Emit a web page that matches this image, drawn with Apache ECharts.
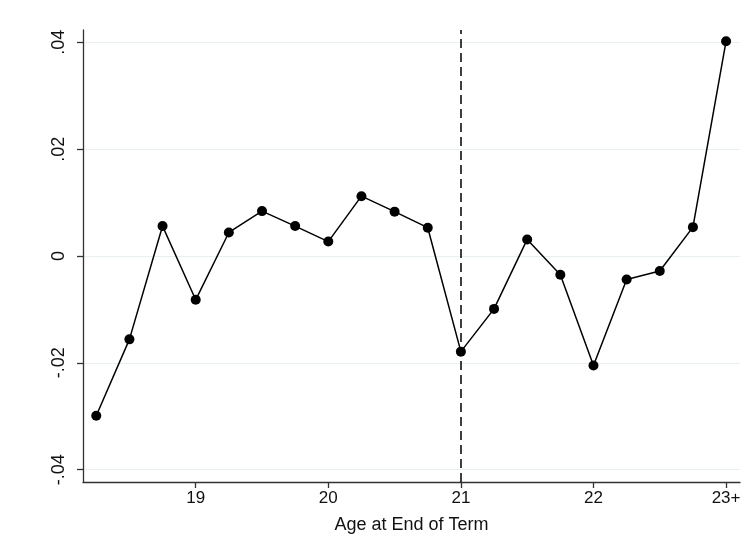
<!DOCTYPE html>
<html>
<head>
<meta charset="utf-8">
<script src="https://cdn.jsdelivr.net/npm/echarts@6/dist/echarts.min.js"></script>
<style>
html,body{margin:0;padding:0;background:#fff;}
#chart{width:746px;height:550px;}
</style>
</head>
<body>
<div id="chart"></div>
<script>
var ages = [18.25, 18.5, 18.75, 19, 19.25, 19.5, 19.75, 20, 20.25, 20.5, 20.75, 21, 21.25, 21.5, 21.75, 22, 22.25, 22.5, 22.75, 23];
var effects = [-0.0299, -0.0156, 0.0056, -0.0082, 0.0044, 0.0084, 0.0056, 0.0027, 0.0112, 0.0083, 0.0053, -0.0179, -0.0099, 0.0031, -0.0035, -0.0205, -0.0044, -0.0028, 0.0054, 0.0402];
var xTicks = [19, 20, 21, 22, 23];
var xTickLabels = ['19', '20', '21', '22', '23+'];
var yTicks = [-0.04, -0.02, 0, 0.02, 0.04];
var yTickLabels = ['-.04', '-.02', '0', '.02', '.04'];
var cutoff = 21;
var xTitle = 'Age at End of Term';

var FONT = '"Liberation Sans", Helvetica, Arial, sans-serif';
var chart = echarts.init(document.getElementById('chart'), null, {renderer: 'canvas'});
var pts = ages.map(function (a, i) { return [a, effects[i]]; });

chart.setOption({
  animation: false,
  backgroundColor: '#ffffff',
  grid: {left: 83, right: 6, top: 30, bottom: 68, containLabel: false},
  xAxis: {
    type: 'value',
    min: 18.15, max: 23.105,
    name: xTitle,
    nameLocation: 'middle',
    nameGap: 34,
    nameTextStyle: {fontFamily: FONT, fontSize: 18, color: '#111'},
    axisLine: {show: true, onZero: false, lineStyle: {color: '#333', width: 1.3}},
    axisTick: {show: true, length: 6, customValues: xTicks, lineStyle: {color: '#333', width: 1.3}},
    axisLabel: {
      customValues: xTicks, margin: 8, fontFamily: FONT, fontSize: 17, color: '#111',
      formatter: function (v) { var i = xTicks.indexOf(v); return i >= 0 ? xTickLabels[i] : ''; }
    },
    splitLine: {show: false}
  },
  yAxis: {
    type: 'value',
    min: -0.0423, max: 0.0423,
    axisLine: {show: true, onZero: false, lineStyle: {color: '#333', width: 1.3}},
    axisTick: {show: true, length: 6, customValues: yTicks, lineStyle: {color: '#333', width: 1.3}},
    axisLabel: {
      customValues: yTicks, rotate: 90, margin: 15, fontFamily: FONT, fontSize: 18, color: '#111',
      formatter: function (v) {
        for (var i = 0; i < yTicks.length; i++) { if (Math.abs(yTicks[i] - v) < 1e-9) return yTickLabels[i]; }
        return '';
      }
    },
    splitLine: {show: true, lineStyle: {color: '#e9f0f0', width: 1.2}}
  },
  series: [{
    type: 'line',
    data: pts,
    symbol: 'circle',
    symbolSize: 10,
    showAllSymbol: true,
    itemStyle: {color: '#000'},
    lineStyle: {color: '#000', width: 1.5},
    z: 3,
    markLine: {
      silent: true,
      symbol: ['none', 'none'],
      label: {show: false},
      lineStyle: {color: '#000', width: 1.5, type: [9, 5]},
      data: [{xAxis: cutoff}],
      z: 2
    }
  }]
});
</script>
</body>
</html>
